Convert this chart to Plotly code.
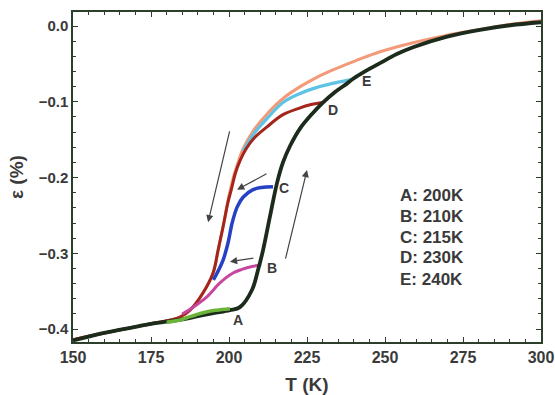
import plotly.graph_objects as go

# Main heating curve (black)
heat_T = [150, 160, 170, 175, 180, 185, 190, 195, 200.3, 203.5, 207.4, 209.3, 210.9, 213.1, 215.4,
          217.3, 219.6, 222.8, 226.6, 230.1, 234.0, 237.8, 239.7, 243.6, 248.4, 253.8, 259.0,
          269.9, 280.4, 290.1, 300]
heat_e = [-0.415, -0.405, -0.397, -0.393, -0.390, -0.387, -0.383, -0.379, -0.375, -0.371, -0.348,
          -0.322, -0.296, -0.252, -0.207, -0.180, -0.158, -0.135, -0.116, -0.101, -0.087, -0.076,
          -0.070, -0.060, -0.049, -0.037, -0.028, -0.014, -0.005, 0.001, 0.005]

# Main cooling curve (orange)
cool_T = [300, 290, 280, 270, 259, 248.4, 240.5, 233.3, 228, 222.8, 217.5, 212.2, 208, 204.5,
          202.5, 201.3, 199.7, 198.1, 196.5, 194.9, 191.7, 187.5, 184.3, 180, 175, 170, 160, 150]
cool_e = [0.007, 0.002, -0.005, -0.012, -0.022, -0.034, -0.046, -0.058, -0.068, -0.080, -0.095,
          -0.116, -0.137, -0.162, -0.185, -0.201, -0.230, -0.265, -0.296, -0.326, -0.352, -0.375,
          -0.384, -0.389, -0.393, -0.397, -0.405, -0.414]

# Partial cycles
E_T = [239.7, 234, 228.2, 222.8, 217.3, 212.2, 208, 204.5]
E_e = [-0.070, -0.075, -0.081, -0.089, -0.101, -0.122, -0.142, -0.165]

D_T = [229.8, 226, 222.8, 217.3, 212.2, 208, 205.5, 203.5, 202, 200.8, 199.7, 198.1, 196.5,
       194.9, 191.7, 187.5, 184.3, 180, 175, 170, 160, 150]
D_e = [-0.101, -0.104, -0.108, -0.117, -0.133, -0.148, -0.162, -0.178, -0.195, -0.215, -0.232,
       -0.265, -0.296, -0.326, -0.352, -0.375, -0.384, -0.389, -0.393, -0.397, -0.405, -0.414]

C_T = [214.1, 210.5, 207.7, 204.5, 202.6, 201.0, 199.7, 198.1, 196.2, 195.0]
C_e = [-0.212, -0.213, -0.216, -0.226, -0.239, -0.260, -0.286, -0.309, -0.326, -0.335]

B_T = [210.3, 205.8, 201.3, 197.1, 193, 188.5, 185]
B_e = [-0.315, -0.319, -0.326, -0.339, -0.357, -0.371, -0.380]

A_T = [200.3, 196, 193, 189.5, 186.5, 184.3, 180]
A_e = [-0.373, -0.375, -0.377, -0.381, -0.385, -0.388, -0.391]

legend_lines = ["A: 200K", "B: 210K", "C: 215K", "D: 230K", "E: 240K"]
legend_y = [-0.223, -0.251, -0.279, -0.306, -0.334]

point_labels = ["A", "B", "C", "D", "E"]
point_T = [202.9, 213.8, 217.6, 233.3, 244.2]
point_e = [-0.388, -0.319, -0.214, -0.111, -0.073]

# arrows: (tail T, tail e, head T, head e)
arrows = [
    (200.3, -0.137, 193.3, -0.259),
    (218.0, -0.309, 225.0, -0.190),
    (212.5, -0.194, 202.6, -0.216),
    (208.3, -0.306, 200.3, -0.311),
]

fig = go.Figure()

def curve(x, y, color, width):
    fig.add_trace(go.Scatter(x=x, y=y, mode="lines",
                             line=dict(color=color, width=width, shape="spline", smoothing=1.0)))

curve(cool_T, cool_e, "#f39a78", 3)
curve(E_T, E_e, "#5ec3e4", 3.2)
curve(D_T, D_e, "#a3251c", 3)
curve(C_T, C_e, "#2741c4", 3.5)
curve(B_T, B_e, "#c8479e", 3)
curve(heat_T, heat_e, "#1c2b1c", 3.8)
curve(A_T, A_e, "#6cb33a", 3.5)

font = dict(family="Liberation Sans, Arial, sans-serif", size=15, color="#3a3a3a", weight="bold")

for t, yy in zip(legend_lines, legend_y):
    fig.add_annotation(x=254.2, y=yy, text=t, showarrow=False, xanchor="left",
                       yanchor="middle", font=dict(font, size=17))

for t, xx, yy in zip(point_labels, point_T, point_e):
    fig.add_annotation(x=xx, y=yy, text=t, showarrow=False, xanchor="center",
                       yanchor="middle", font=dict(font, size=14))

for (tx, ty, hx, hy) in arrows:
    fig.add_annotation(x=hx, y=hy, ax=tx, ay=ty, axref="x", ayref="y", xref="x", yref="y",
                       text="", showarrow=True, arrowhead=2, arrowsize=1.2, arrowwidth=1.2,
                       arrowcolor="#444444")

axis_common = dict(showline=True, linecolor="#2b3f2b", linewidth=1.5, mirror="ticks",
                   ticks="inside", ticklen=5, tickwidth=1.2, tickcolor="#2b3f2b",
                   showgrid=False, zeroline=False, automargin=False)

fig.update_xaxes(range=[150, 300], dtick=25, tick0=150, tickfont=dict(font, size=16),
                 minor=dict(dtick=5, ticks="inside", ticklen=3, tickcolor="#2b3f2b"),
                 title=dict(text="T (K)", font=dict(font, size=19), standoff=15),
                 **axis_common)
fig.update_yaxes(range=[-0.417, 0.0185], dtick=0.1, tick0=0, tickformat=".1f",
                 tickfont=dict(font, size=15),
                 minor=dict(dtick=0.02, ticks="inside", ticklen=3, tickcolor="#2b3f2b"),
                 title=dict(text="ε (%)", font=dict(font, size=19), standoff=10),
                 **axis_common)

fig.update_layout(width=555, height=395, margin=dict(l=73, r=14, t=12, b=53),
                  plot_bgcolor="white", paper_bgcolor="white", showlegend=False)

fig.write_html("out.html")
